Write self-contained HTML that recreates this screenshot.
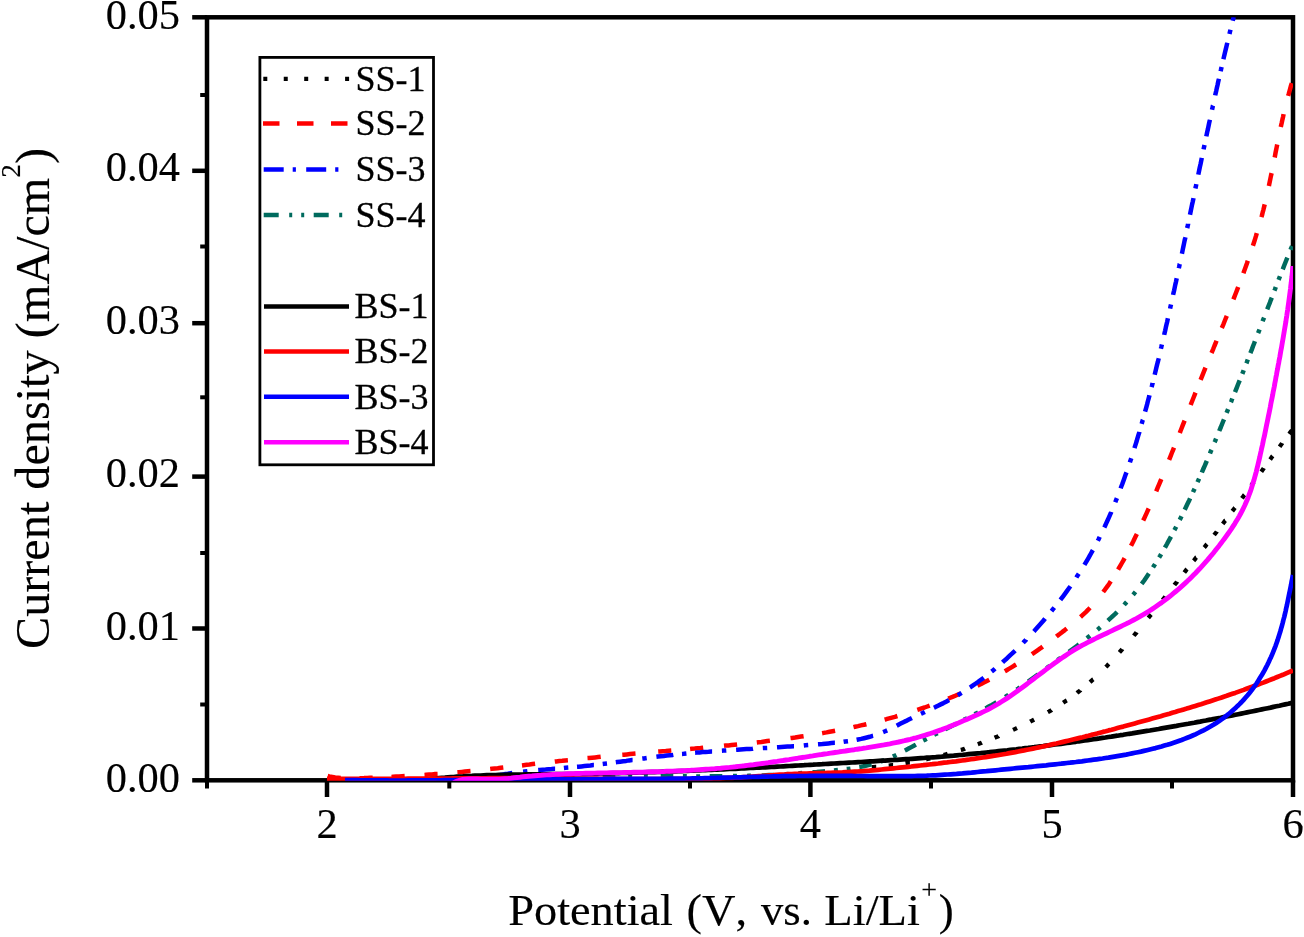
<!DOCTYPE html>
<html lang="en">
<head>
<meta charset="utf-8">
<title>Current density vs. Potential</title>
<style>
html,body{margin:0;padding:0;background:#ffffff;}
body{width:1304px;height:937px;overflow:hidden;}
svg{display:block;filter:blur(0.55px);}
text{font-family:"Liberation Serif","Times New Roman",serif;fill:#000;}
</style>
</head>
<body>
<svg width="1304" height="937" viewBox="0 0 1304 937">
<rect x="0" y="0" width="1304" height="937" fill="#ffffff"/>
<defs><clipPath id="plot"><rect x="207" y="17.3" width="1086" height="763.4"/></clipPath></defs>

<g stroke="#000" stroke-width="4.5" fill="none" stroke-linecap="butt">
<rect x="207.0" y="17.3" width="1086.0" height="763.0"/>
<line x1="192.2" y1="780.3" x2="207.0" y2="780.3"/>
<line x1="192.2" y1="628.5" x2="207.0" y2="628.5"/>
<line x1="192.2" y1="476.6" x2="207.0" y2="476.6"/>
<line x1="192.2" y1="323.2" x2="207.0" y2="323.2"/>
<line x1="192.2" y1="170.8" x2="207.0" y2="170.8"/>
<line x1="192.2" y1="17.3" x2="207.0" y2="17.3"/>
<line x1="200.2" y1="704.5" x2="207.0" y2="704.5" stroke-width="4"/>
<line x1="200.2" y1="553.0" x2="207.0" y2="553.0" stroke-width="4"/>
<line x1="200.2" y1="397.3" x2="207.0" y2="397.3" stroke-width="4"/>
<line x1="200.2" y1="246.5" x2="207.0" y2="246.5" stroke-width="4"/>
<line x1="200.2" y1="95.0" x2="207.0" y2="95.0" stroke-width="4"/>
<line x1="327.0" y1="780.3" x2="327.0" y2="797.0"/>
<line x1="570.0" y1="780.3" x2="570.0" y2="797.0"/>
<line x1="810.4" y1="780.3" x2="810.4" y2="797.0"/>
<line x1="1052.0" y1="780.3" x2="1052.0" y2="797.0"/>
<line x1="1293.0" y1="780.3" x2="1293.0" y2="797.0"/>
<line x1="207.0" y1="780.3" x2="207.0" y2="788.5" stroke-width="4"/>
<line x1="449.3" y1="780.3" x2="449.3" y2="788.5" stroke-width="4"/>
<line x1="690.0" y1="780.3" x2="690.0" y2="788.5" stroke-width="4"/>
<line x1="931.0" y1="780.3" x2="931.0" y2="788.5" stroke-width="4"/>
<line x1="1172.0" y1="780.3" x2="1172.0" y2="788.5" stroke-width="4"/>
</g>
<g clip-path="url(#plot)" fill="none" stroke-linejoin="round">
<path d="M871.8 767.2L873.0 767.2L876.0 766.9L876.2 766.9M888.7 765.6L889.9 765.5L892.9 765.1L893.1 765.1M905.5 763.2L906.7 763.0L909.7 762.5L909.9 762.5M926.1 759.3L927.3 759.0L930.2 758.3L930.4 758.3M943.6 755.0L944.8 754.7L947.6 753.9L947.8 753.8M960.8 749.9L962.0 749.6L964.8 748.7L965.0 748.6M977.8 744.2L978.9 743.8L981.7 742.8L981.9 742.7M994.6 737.8L995.7 737.3L998.5 736.2L998.6 736.1M1013.0 729.9L1014.1 729.4L1016.8 728.1L1017.0 728.0M1030.2 721.7L1031.2 721.1L1033.9 719.8L1034.1 719.7M1047.8 712.2L1048.9 711.6L1051.5 710.1L1051.6 710.0M1063.2 702.8L1064.2 702.1L1066.6 700.4L1066.8 700.3M1077.0 693.0L1077.9 692.2L1080.3 690.4L1080.4 690.2M1090.0 682.2L1090.9 681.4L1093.1 679.4L1093.3 679.3M1105.8 667.1L1106.7 666.2L1108.7 664.1L1108.9 663.9M1119.4 652.4L1120.2 651.5L1122.2 649.3L1122.3 649.1M1133.8 635.7L1134.5 634.8L1136.5 632.5L1136.6 632.3M1148.3 617.9L1149.1 617.0L1151.0 614.6L1151.1 614.5M1162.7 600.0L1163.4 599.0L1165.3 596.7L1165.4 596.5M1174.4 585.1L1175.1 584.1L1177.0 581.8L1177.1 581.6M1184.3 572.5L1185.0 571.6L1186.9 569.2L1187.0 569.1M1193.6 560.8L1194.4 559.9L1196.2 557.5L1196.4 557.4M1204.2 547.5L1205.0 546.6L1206.8 544.2L1206.9 544.1M1214.1 535.0L1214.9 534.0L1216.7 531.7L1216.8 531.5M1222.7 523.9L1223.4 523.0L1225.2 520.6L1225.4 520.5M1232.3 511.2L1233.1 510.2L1234.9 507.8L1235.0 507.7M1241.9 498.3L1242.6 497.4L1244.3 495.0L1244.5 494.8M1251.3 485.4L1252.0 484.4L1253.7 482.0L1253.9 481.9M1261.3 471.7L1262.0 470.7L1263.7 468.3L1263.8 468.1M1270.1 459.5L1270.8 458.6L1272.6 456.1L1272.7 456.0M1279.6 446.7L1280.3 445.7L1282.1 443.3L1282.2 443.1M1289.2 433.9L1289.9 432.9L1291.7 430.6L1291.9 430.4" stroke="#000000" stroke-width="4.3"/>
<path d="M327.7 776.0L329.3 776.4L332.3 776.9L335.2 777.4L338.2 777.7L340.7 777.9M359.5 778.2L361.1 778.2L364.1 778.1L367.1 777.9L370.1 777.8L372.7 777.7M391.5 776.9L393.1 776.8L396.1 776.6L399.1 776.5L402.1 776.3L404.7 776.1M424.5 774.9L426.1 774.8L429.1 774.6L432.1 774.4L435.1 774.1L437.6 774.0M457.4 772.3L459.0 772.2L461.9 771.9L464.9 771.6L467.9 771.3L470.5 771.1M490.2 769.0L491.8 768.8L494.8 768.5L497.7 768.2L500.7 767.8L503.3 767.5M522.0 765.4L523.6 765.2L526.6 764.8L529.5 764.5L532.5 764.1L535.1 763.8M554.8 761.6L556.3 761.4L559.3 761.1L562.3 760.8L565.3 760.4L567.9 760.2M587.5 758.1L589.1 758.0L592.1 757.7L595.1 757.4L598.1 757.1L600.7 756.8M622.3 754.8L623.9 754.7L626.9 754.4L629.9 754.1L632.9 753.8L635.5 753.6M658.2 751.6L659.8 751.5L662.8 751.2L665.8 751.0L668.7 750.7L671.3 750.5M690.1 748.9L691.7 748.7L694.7 748.5L697.7 748.2L700.6 748.0L703.2 747.7M724.0 745.8L725.6 745.6L728.5 745.4L731.5 745.1L734.5 744.8L737.1 744.5M756.8 742.4L758.4 742.2L761.4 741.9L764.4 741.5L767.3 741.1L769.9 740.8M790.5 738.1L792.1 737.9L795.1 737.5L798.1 737.0L801.0 736.6L803.6 736.2M822.1 733.2L823.7 732.9L826.6 732.4L829.6 731.8L832.5 731.3L835.1 730.8M853.5 727.1L855.1 726.7L858.0 726.1L860.9 725.4L863.9 724.8L866.4 724.2M884.6 719.6L886.2 719.2L889.1 718.4L892.0 717.6L894.9 716.8L897.4 716.0M917.3 709.9L918.8 709.4L921.6 708.4L924.5 707.5L927.3 706.5L929.7 705.6M948.2 698.6L949.7 698.0L952.5 696.9L955.3 695.7L958.0 694.5L960.4 693.5M977.5 685.7L978.9 685.0L981.6 683.7L984.3 682.3L986.9 681.0L989.3 679.8M1004.8 671.3L1006.2 670.5L1008.8 668.9L1011.4 667.4L1013.9 665.8L1016.1 664.5M1031.9 654.2L1033.2 653.3L1035.7 651.6L1038.2 649.9L1040.6 648.2L1042.7 646.6M1056.4 636.6L1057.6 635.6L1060.0 633.8L1062.4 631.9L1064.8 630.1L1066.8 628.5M1080.5 617.0L1081.7 615.9L1083.9 613.8L1086.1 611.8L1088.2 609.7L1090.0 607.8M1103.2 592.0L1104.2 590.7L1105.9 588.3L1107.7 585.9L1109.4 583.4L1110.8 581.2M1118.1 569.6L1118.9 568.2L1120.4 565.6L1121.9 563.0L1123.4 560.4L1124.6 558.1M1131.0 545.8L1131.7 544.4L1133.1 541.7L1134.4 539.0L1135.7 536.3L1136.9 534.0M1143.2 520.5L1143.9 519.1L1145.1 516.4L1146.4 513.6L1147.6 510.9L1148.7 508.5M1156.2 491.3L1156.8 489.8L1157.9 487.1L1159.1 484.3L1160.3 481.5L1161.3 479.1M1169.1 459.9L1169.7 458.4L1170.8 455.6L1171.9 452.8L1173.0 450.1L1174.0 447.6M1179.8 433.0L1180.3 431.5L1181.4 428.7L1182.5 425.9L1183.6 423.1L1184.6 420.7M1190.7 405.0L1191.2 403.5L1192.3 400.7L1193.4 398.0L1194.5 395.2L1195.5 392.7M1200.6 379.9L1201.2 378.4L1202.3 375.6L1203.4 372.9L1204.5 370.1L1205.5 367.7M1211.5 353.0L1212.1 351.6L1213.3 348.8L1214.4 346.0L1215.6 343.2L1216.5 340.8M1221.8 328.0L1222.4 326.6L1223.6 323.8L1224.7 321.0L1225.8 318.2L1226.8 315.8M1233.4 299.3L1234.0 297.8L1235.1 295.0L1236.2 292.2L1237.3 289.4L1238.2 287.0M1243.4 273.2L1243.9 271.7L1245.0 268.8L1246.0 266.0L1247.0 263.2L1247.8 260.7M1252.9 245.8L1253.4 244.3L1254.3 241.5L1255.2 238.6L1256.1 235.7L1256.8 233.2M1261.4 217.2L1261.9 215.6L1262.6 212.7L1263.4 209.8L1264.1 206.9L1264.7 204.4M1268.9 186.0L1269.2 184.4L1269.8 181.5L1270.4 178.6L1271.0 175.6L1271.6 173.1M1274.7 157.5L1275.0 155.9L1275.5 153.0L1276.1 150.0L1276.7 147.1L1277.2 144.5M1280.8 127.0L1281.1 125.5L1281.8 122.5L1282.4 119.6L1283.1 116.7L1283.6 114.1M1288.1 95.9L1288.6 94.4L1289.4 91.5L1290.2 88.6L1291.0 85.7L1291.8 83.2" stroke="#ff0000" stroke-width="4.5"/>
<path d="M500.0 775.0L502.0 774.6L504.9 774.1L507.9 773.7L510.9 773.2L512.3 773.0M523.1 771.7L524.8 771.5L527.4 771.2M538.2 770.1L539.7 770.0L542.7 769.7L545.6 769.5L548.6 769.2L551.6 769.0L554.6 768.7L555.1 768.7M563.9 768.0L565.6 767.8L568.3 767.6M577.0 766.8L578.5 766.7L581.5 766.4L584.5 766.1L587.5 765.8L590.4 765.5L593.4 765.1L593.9 765.1M602.7 764.0L604.3 763.8L607.0 763.5M615.8 762.3L617.2 762.1L620.2 761.7L623.2 761.3L626.2 760.9L629.1 760.4L632.1 760.0L632.6 760.0M642.3 758.6L644.0 758.4L646.7 758.0M656.4 756.8L657.9 756.6L660.9 756.2L663.9 755.9L666.8 755.5L669.8 755.2L672.8 754.9L673.3 754.8M682.0 753.9L683.7 753.8L686.4 753.5M695.1 752.7L696.7 752.6L699.6 752.4L702.6 752.1L705.6 751.9L708.6 751.7L711.6 751.4L712.1 751.4M721.9 750.7L723.5 750.6L726.3 750.4M736.1 749.8L737.5 749.7L740.5 749.5L743.5 749.3L746.5 749.1L749.5 748.9L752.5 748.8L753.0 748.7M762.8 748.1L764.4 748.0L767.2 747.9M777.0 747.3L778.4 747.2L781.4 747.0L784.4 746.8L787.4 746.6L790.4 746.4L793.4 746.2L794.0 746.2M803.8 745.5L805.4 745.3L808.2 745.1M818.0 744.3L819.4 744.2L822.4 744.0L825.4 743.7L828.4 743.4L831.4 743.1L834.4 742.8L834.9 742.8M843.6 741.8L845.4 741.5L848.0 741.2M856.6 739.8L858.2 739.5L861.1 738.9L864.0 738.2L866.9 737.5L869.7 736.8L872.6 735.9L873.1 735.8M883.1 732.1L884.6 731.5L887.2 730.4M896.7 725.7L898.0 725.0L900.7 723.6L903.4 722.2L906.1 720.9L908.8 719.5L911.5 718.2L911.9 718.0M920.9 713.8L922.5 713.1L924.9 711.9M933.9 707.7L935.3 707.1L938.0 705.7L940.7 704.4L943.4 703.1L946.1 701.7L948.7 700.3L949.1 700.1M957.8 695.2L959.2 694.4L961.6 692.9M969.9 687.5L970.9 686.9L973.4 685.2L975.8 683.5L978.2 681.8L980.6 680.0L983.0 678.3L983.8 677.7M991.6 671.5L992.4 670.9L994.7 669.0L995.0 668.7M1002.6 662.3L1003.7 661.2L1006.0 659.3L1008.2 657.2L1010.3 655.2L1012.5 653.2L1014.7 651.1L1015.1 650.7M1023.1 642.8L1023.9 641.9L1026.0 639.8L1026.1 639.6M1033.9 631.4L1034.9 630.3L1036.9 628.0L1038.9 625.8L1040.9 623.6L1042.9 621.3L1044.8 619.0L1045.1 618.6M1051.5 611.1L1052.6 609.7L1054.3 607.6M1060.4 599.9L1061.3 598.7L1063.1 596.3L1064.9 593.9L1066.7 591.4L1068.4 589.0L1070.2 586.5L1070.4 586.2M1076.4 577.5L1076.9 576.6L1078.6 574.1L1078.8 573.8M1084.4 564.9L1085.0 563.9L1086.5 561.3L1088.0 558.8L1089.5 556.2L1091.0 553.5L1092.4 550.9L1092.9 550.1M1097.8 540.8L1098.5 539.5L1099.7 536.9M1104.3 527.4L1105.0 526.0L1106.2 523.3L1107.5 520.5L1108.7 517.8L1109.9 515.1L1111.1 512.3L1111.2 511.9M1115.3 502.2L1116.0 500.3L1116.9 498.1M1120.7 488.3L1121.0 487.3L1122.1 484.5L1123.1 481.7L1124.1 478.9L1125.1 476.1L1126.1 473.3L1126.5 472.3M1129.9 462.3L1130.3 461.0L1131.3 458.2M1134.5 448.1L1134.9 446.7L1135.8 443.8L1136.7 441.0L1137.5 438.1L1138.4 435.2L1139.3 432.4L1139.4 431.9M1141.7 423.9L1142.0 422.7L1142.8 419.9L1142.9 419.7M1145.1 411.6L1145.5 410.2L1146.3 407.3L1147.1 404.4L1147.8 401.5L1148.6 398.6L1149.4 395.7L1149.5 395.2M1151.6 387.1L1151.9 386.0L1152.6 383.1L1152.6 382.9M1154.7 374.8L1155.0 373.4L1155.7 370.4L1156.4 367.5L1157.1 364.6L1157.9 361.7L1158.6 358.8L1158.7 358.3M1160.9 348.7L1161.3 347.1L1161.9 344.4M1164.2 334.9L1164.5 333.4L1165.2 330.5L1165.8 327.6L1166.5 324.6L1167.2 321.7L1167.8 318.8L1167.9 318.3M1170.1 308.7L1170.4 307.1L1171.0 304.5M1173.1 294.9L1173.4 293.4L1174.1 290.5L1174.7 287.6L1175.3 284.6L1176.0 281.7L1176.6 278.8L1176.7 278.3M1178.8 268.2L1179.1 267.0L1179.7 264.1L1179.8 263.9M1181.9 253.8L1182.2 252.4L1182.8 249.4L1183.4 246.5L1184.0 243.6L1184.6 240.6L1185.3 237.7L1185.4 237.2M1187.2 228.1L1187.5 226.9L1188.1 224.0L1188.1 223.8M1190.0 214.7L1190.3 213.2L1190.9 210.3L1191.5 207.4L1192.1 204.4L1192.8 201.5L1193.4 198.6L1193.5 198.1M1195.4 188.5L1195.8 186.8L1196.3 184.2M1198.3 174.6L1198.6 173.1L1199.2 170.2L1199.8 167.2L1200.5 164.3L1201.1 161.4L1201.7 158.4L1201.8 157.9M1203.6 149.3L1203.9 147.7L1204.5 145.0M1206.3 136.4L1206.6 135.0L1207.2 132.0L1207.9 129.1L1208.5 126.2L1209.1 123.2L1209.8 120.3L1209.9 119.8M1212.0 109.8L1212.3 108.6L1212.9 105.7L1213.0 105.5M1215.2 95.4L1215.5 93.9L1216.2 91.0L1216.8 88.1L1217.5 85.2L1218.1 82.2L1218.8 79.3L1218.9 78.8M1220.6 71.2L1221.0 69.6L1221.6 66.9M1223.4 59.3L1223.7 57.9L1224.4 54.9L1225.1 52.0L1225.8 49.1L1226.5 46.2L1227.2 43.3L1227.3 42.8M1229.5 33.9L1229.8 32.6L1230.5 29.7M1232.7 20.8L1233.2 18.9L1233.7 17.0" stroke="#0000ff" stroke-width="4.5"/>
<path d="M602.7 776.4L604.0 776.4L607.0 776.4L610.0 776.3L613.0 776.3L615.3 776.3M628.2 776.2L630.0 776.2L632.1 776.2M643.9 776.2L645.0 776.2L647.8 776.2M660.7 776.2L662.0 776.2L665.0 776.2L668.0 776.2L671.0 776.3L673.3 776.3M682.9 776.3L684.0 776.3L686.8 776.3M696.2 776.4L698.0 776.4L700.1 776.4M709.7 776.3L711.0 776.3L714.0 776.3L717.0 776.3L720.0 776.3L722.3 776.3M733.0 776.1L735.0 776.1L736.9 776.1M747.0 775.9L748.9 775.8L750.9 775.8M761.6 775.4L762.9 775.4L765.9 775.2L768.9 775.1L771.9 775.0L774.2 774.9M784.6 774.3L785.9 774.2L788.5 774.0M798.3 773.4L799.8 773.3L802.2 773.1M812.6 772.3L813.8 772.2L816.8 772.0L819.8 771.7L822.8 771.5L825.1 771.3M834.0 770.5L835.9 770.3L837.9 770.1M846.7 769.1L847.9 769.0L850.5 768.6M859.3 767.1L860.7 766.9L863.6 766.3L866.5 765.6L869.4 764.9L871.6 764.4M880.7 761.6L881.7 761.2L884.4 760.2M892.9 756.6L894.4 755.9L896.4 754.9M904.8 750.6L906.0 750.0L908.6 748.6L911.3 747.1L913.9 745.7L915.9 744.6M923.2 740.5L924.5 739.9L926.7 738.7M934.1 734.8L935.1 734.3L937.6 733.1M945.1 729.3L946.8 728.5L949.4 727.1L952.1 725.8L954.8 724.5L956.3 723.7M963.8 719.9L965.5 719.1L967.3 718.2M974.7 714.3L976.1 713.5L978.2 712.4M985.5 708.4L986.7 707.8L989.3 706.3L991.9 704.9L994.5 703.4L996.5 702.2M1005.2 697.0L1006.4 696.2L1008.5 694.9M1016.6 689.6L1018.2 688.6L1019.9 687.4M1028.2 681.6L1029.6 680.6L1032.0 678.9L1034.5 677.1L1036.9 675.3L1038.4 674.2M1046.6 668.2L1048.1 667.0L1049.7 665.9M1057.6 660.1L1058.6 659.3L1060.7 657.8M1068.9 651.8L1069.9 651.1L1072.4 649.3L1074.8 647.5L1077.2 645.7L1079.0 644.3M1086.9 638.2L1088.3 637.1L1090.0 635.8M1097.4 629.7L1098.4 628.9L1100.4 627.2M1107.9 620.6L1108.9 619.7L1111.1 617.7L1113.3 615.6L1115.5 613.6L1117.1 612.0M1124.1 604.9L1125.2 603.6L1126.7 602.0M1133.0 594.8L1133.8 593.9L1135.5 591.8M1141.6 583.9L1142.4 582.9L1144.2 580.5L1145.9 578.0L1147.6 575.5L1148.9 573.6M1153.0 567.4L1153.7 566.3L1155.1 564.1M1159.1 557.5L1160.0 556.1L1161.1 554.2M1164.9 547.7L1165.5 546.6L1167.0 544.0L1168.4 541.3L1169.9 538.7L1171.0 536.7M1174.4 530.1L1175.0 529.0L1176.2 526.7M1179.7 519.8L1180.5 518.4L1181.5 516.3M1184.7 509.7L1185.3 508.5L1186.6 505.8L1187.9 503.1L1189.2 500.4L1190.1 498.3M1193.0 492.2L1193.8 490.4L1194.6 488.7M1197.5 482.2L1198.3 480.4L1199.1 478.6M1201.8 472.5L1202.3 471.3L1203.5 468.5L1204.7 465.8L1205.9 463.0L1206.8 460.9M1210.0 453.4L1210.5 452.0L1211.5 449.8M1214.6 442.2L1215.2 440.9L1216.1 438.6M1219.2 431.0L1219.7 429.8L1220.9 427.0L1222.0 424.2L1223.1 421.5L1224.0 419.3M1226.6 412.8L1227.2 411.3L1228.1 409.1M1230.9 402.2L1231.4 401.1L1232.3 398.6M1235.0 392.1L1235.5 390.9L1236.6 388.1L1237.7 385.3L1238.8 382.5L1239.7 380.4M1242.3 373.8L1242.9 372.3L1243.7 370.2M1246.4 363.3L1246.9 362.1L1247.8 359.6M1250.4 353.1L1250.9 351.8L1252.0 349.1L1253.0 346.3L1254.1 343.5L1254.9 341.3M1258.1 333.1L1258.8 331.4L1259.5 329.4M1262.6 321.3L1263.0 320.2L1264.1 317.6M1267.2 309.4L1267.7 308.1L1268.8 305.3L1269.9 302.6L1270.9 299.8L1271.8 297.6M1274.4 290.7L1274.9 289.5L1275.8 287.0M1278.6 279.9L1279.2 278.3L1280.0 276.2M1282.7 269.3L1283.2 268.1L1284.3 265.3L1285.4 262.5L1286.5 259.7L1287.4 257.6M1290.6 249.7L1291.0 248.6L1292.1 246.1" stroke="#006b5e" stroke-width="4.5"/>
<path d="M430.0 779.2L433.0 778.8L435.9 778.5L438.9 778.2L441.9 777.9L444.9 777.7L447.9 777.4L450.9 777.2L453.8 777.0L456.8 776.7L459.8 776.5L462.8 776.4L465.8 776.2L468.8 776.0L471.8 775.9L474.8 775.7L477.7 775.6L480.7 775.5L483.7 775.3L486.7 775.2L489.7 775.1L492.7 775.0L495.7 775.0L498.7 774.9L501.7 774.8L504.7 774.8L507.7 774.7L510.7 774.6L513.7 774.6L516.7 774.6L519.7 774.5L522.7 774.5L525.7 774.4L528.7 774.4L531.7 774.4L534.7 774.4L537.6 774.3L540.6 774.3L543.6 774.3L546.6 774.3L549.6 774.2L552.6 774.2L555.6 774.2L558.6 774.2L561.6 774.1L564.6 774.1L567.6 774.1L570.6 774.0L573.6 774.0L576.6 773.9L579.6 773.9L582.6 773.8L585.6 773.8L588.6 773.7L591.6 773.7L594.6 773.6L597.6 773.6L600.6 773.5L603.6 773.4L606.6 773.4L609.6 773.3L612.6 773.2L615.6 773.2L618.6 773.1L621.6 773.0L624.6 772.9L627.6 772.9L630.6 772.8L633.5 772.7L636.5 772.6L639.5 772.5L642.5 772.4L645.5 772.3L648.5 772.2L651.5 772.1L654.5 772.1L657.5 772.0L660.5 771.8L663.5 771.7L666.5 771.6L669.5 771.5L672.5 771.4L675.5 771.3L678.5 771.2L681.5 771.1L684.5 771.0L687.5 770.9L690.5 770.7L693.4 770.6L696.4 770.5L699.4 770.4L702.4 770.2L705.4 770.1L708.4 770.0L711.4 769.9L714.4 769.7L717.4 769.6L720.4 769.5L723.4 769.3L726.4 769.2L729.4 769.0L732.4 768.9L735.4 768.8L738.4 768.6L741.3 768.5L744.3 768.3L747.3 768.2L750.3 768.0L753.3 767.9L756.3 767.7L759.3 767.6L762.3 767.4L765.3 767.3L768.3 767.1L771.3 766.9L774.3 766.8L777.3 766.6L780.3 766.5L783.3 766.3L786.2 766.1L789.2 766.0L792.2 765.8L795.2 765.6L798.2 765.5L801.2 765.3L804.2 765.2L807.2 765.0L810.2 764.8L813.2 764.7L816.2 764.5L819.2 764.3L822.2 764.2L825.1 764.0L828.1 763.8L831.1 763.6L834.1 763.5L837.1 763.3L840.1 763.1L843.1 763.0L846.1 762.8L849.1 762.6L852.1 762.5L855.1 762.3L858.1 762.1L861.1 762.0L864.0 761.8L867.0 761.6L870.0 761.4L873.0 761.3L876.0 761.1L879.0 760.9L882.0 760.7L885.0 760.6L888.0 760.4L891.0 760.2L894.0 760.0L897.0 759.8L899.9 759.6L902.9 759.4L905.9 759.2L908.9 759.0L911.9 758.8L914.9 758.6L917.9 758.4L920.9 758.2L923.9 758.0L926.8 757.7L929.8 757.5L932.8 757.3L935.8 757.1L938.8 756.8L941.8 756.6L944.8 756.3L947.8 756.1L950.7 755.8L953.7 755.6L956.7 755.3L959.7 755.0L962.7 754.8L965.7 754.5L968.6 754.2L971.6 753.9L974.6 753.6L977.6 753.3L980.6 753.1L983.6 752.8L986.5 752.5L989.5 752.2L992.5 751.8L995.5 751.5L998.5 751.2L1001.4 750.9L1004.4 750.6L1007.4 750.3L1010.4 749.9L1013.4 749.6L1016.3 749.3L1019.3 748.9L1022.3 748.6L1025.3 748.2L1028.2 747.9L1031.2 747.5L1034.2 747.2L1037.2 746.8L1040.1 746.4L1043.1 746.1L1046.1 745.7L1049.1 745.3L1052.0 744.9L1055.0 744.5L1058.0 744.2L1061.0 743.8L1063.9 743.4L1066.9 743.0L1069.9 742.6L1072.8 742.2L1075.8 741.8L1078.8 741.3L1081.7 740.9L1084.7 740.5L1087.7 740.1L1090.6 739.7L1093.6 739.2L1096.6 738.8L1099.5 738.4L1102.5 737.9L1105.5 737.5L1108.4 737.0L1111.4 736.6L1114.4 736.1L1117.3 735.7L1120.3 735.2L1123.2 734.8L1126.2 734.3L1129.2 733.8L1132.1 733.4L1135.1 732.9L1138.0 732.4L1141.0 731.9L1144.0 731.4L1146.9 730.9L1149.9 730.5L1152.8 730.0L1155.8 729.5L1158.7 729.0L1161.7 728.4L1164.7 727.9L1167.6 727.4L1170.6 726.9L1173.5 726.4L1176.5 725.9L1179.4 725.3L1182.4 724.8L1185.3 724.3L1188.3 723.8L1191.2 723.2L1194.2 722.7L1197.1 722.1L1200.1 721.6L1203.0 721.0L1205.9 720.5L1208.9 719.9L1211.8 719.4L1214.8 718.8L1217.7 718.2L1220.7 717.7L1223.6 717.1L1226.5 716.5L1229.5 716.0L1232.4 715.4L1235.4 714.8L1238.3 714.2L1241.2 713.6L1244.2 713.0L1247.1 712.4L1250.1 711.8L1253.0 711.2L1255.9 710.6L1258.9 710.0L1261.8 709.4L1264.7 708.8L1267.7 708.2L1270.6 707.6L1273.5 706.9L1276.4 706.3L1279.4 705.7L1282.3 705.0L1285.2 704.4L1288.2 703.8L1291.1 703.1L1293.0 702.7" stroke="#000000" stroke-width="4.7"/>
<path d="M327.0 778.8L330.0 778.9L333.0 778.9L336.0 778.9L339.0 778.9L342.0 778.9L345.0 778.9L348.0 778.9L351.0 778.9L354.0 778.9L357.0 778.9L360.0 778.9L363.0 778.9L366.0 778.9L369.0 778.9L372.0 778.9L375.0 778.9L378.0 778.9L381.0 778.9L384.0 778.9L387.0 778.9L390.0 778.8L393.0 778.8L396.0 778.8L399.0 778.8L402.0 778.8L405.0 778.8L408.0 778.7L411.0 778.7L414.0 778.7L417.0 778.7L420.0 778.7L423.0 778.6L426.0 778.6L429.0 778.6L432.0 778.6L435.0 778.6L438.0 778.5L441.0 778.5L444.0 778.5L447.0 778.5L450.0 778.5L453.0 778.4L456.0 778.4L459.0 778.4L462.0 778.4L465.0 778.4L467.9 778.3L470.9 778.3L473.9 778.3L476.9 778.3L479.9 778.3L482.9 778.3L485.9 778.3L488.9 778.2L491.9 778.2L494.9 778.2L497.9 778.2L500.9 778.2L503.9 778.2L506.9 778.2L509.9 778.2L512.9 778.2L515.9 778.2L518.9 778.2L521.9 778.2L524.9 778.2L527.9 778.2L530.9 778.2L533.9 778.2L536.9 778.2L539.9 778.2L542.9 778.2L545.9 778.2L548.9 778.2L551.9 778.3L554.9 778.3L557.9 778.3L560.9 778.3L563.9 778.3L566.9 778.4L569.9 778.4L572.9 778.4L575.9 778.5L578.9 778.5L581.9 778.5L584.9 778.6L587.9 778.6L590.9 778.6L593.9 778.7L596.9 778.7L599.9 778.8L602.9 778.8L605.9 778.8L608.9 778.9L611.9 778.9L614.9 778.9L617.9 779.0L620.9 779.0L623.9 779.0L626.9 779.1L629.9 779.1L632.9 779.1L635.9 779.1L638.9 779.2L641.9 779.2L644.9 779.2L647.9 779.2L650.9 779.2L653.9 779.2L656.9 779.2L659.9 779.2L662.9 779.2L665.9 779.2L668.9 779.2L671.9 779.2L674.9 779.2L677.9 779.2L680.9 779.1L683.9 779.1L686.9 779.1L689.9 779.0L692.9 779.0L695.9 778.9L698.9 778.9L701.9 778.8L704.9 778.7L707.9 778.6L710.9 778.6L713.9 778.5L716.9 778.4L719.9 778.3L722.9 778.2L725.9 778.0L728.9 777.9L731.8 777.8L734.8 777.6L737.8 777.5L740.8 777.3L743.8 777.1L746.8 777.0L749.8 776.8L752.8 776.6L755.8 776.4L758.8 776.2L761.8 776.0L764.8 775.8L767.7 775.6L770.7 775.4L773.7 775.2L776.7 774.9L779.7 774.7L782.7 774.5L785.7 774.4L788.7 774.2L791.7 774.0L794.7 773.9L797.7 773.8L800.7 773.7L803.7 773.6L806.7 773.5L809.7 773.4L812.7 773.3L815.7 773.2L818.7 773.1L821.7 773.1L824.7 773.0L827.7 772.9L830.7 772.8L833.7 772.7L836.7 772.6L839.7 772.5L842.6 772.4L845.6 772.2L848.6 772.1L851.6 771.9L854.6 771.7L857.6 771.5L860.6 771.3L863.6 771.1L866.6 770.8L869.5 770.6L872.5 770.3L875.5 770.1L878.5 769.8L881.5 769.5L884.5 769.2L887.4 768.9L890.4 768.6L893.4 768.3L896.4 768.0L899.4 767.7L902.4 767.4L905.3 767.1L908.3 766.8L911.3 766.5L914.3 766.1L917.3 765.8L920.3 765.5L923.2 765.2L926.2 764.8L929.2 764.5L932.2 764.2L935.2 763.8L938.1 763.5L941.1 763.1L944.1 762.7L947.1 762.4L950.1 762.0L953.0 761.6L956.0 761.3L959.0 760.9L962.0 760.5L965.0 760.1L967.9 759.7L970.9 759.2L973.9 758.8L976.8 758.4L979.8 758.0L982.8 757.5L985.7 757.1L988.7 756.6L991.7 756.1L994.6 755.7L997.6 755.2L1000.5 754.7L1003.5 754.2L1006.5 753.7L1009.4 753.1L1012.4 752.6L1015.3 752.1L1018.3 751.5L1021.2 750.9L1024.1 750.4L1027.1 749.8L1030.0 749.2L1033.0 748.6L1035.9 748.0L1038.8 747.4L1041.7 746.7L1044.7 746.1L1047.6 745.5L1050.5 744.8L1053.4 744.1L1056.4 743.5L1059.3 742.8L1062.2 742.1L1065.1 741.4L1068.0 740.7L1071.0 740.0L1073.9 739.3L1076.8 738.6L1079.7 737.9L1082.6 737.2L1085.5 736.4L1088.4 735.7L1091.3 734.9L1094.2 734.2L1097.1 733.5L1100.0 732.7L1102.9 731.9L1105.8 731.2L1108.7 730.4L1111.6 729.7L1114.5 728.9L1117.4 728.1L1120.3 727.3L1123.2 726.6L1126.1 725.8L1129.0 725.0L1131.9 724.2L1134.8 723.4L1137.7 722.6L1140.6 721.8L1143.5 721.0L1146.4 720.2L1149.3 719.4L1152.2 718.6L1155.0 717.8L1157.9 717.0L1160.8 716.2L1163.7 715.3L1166.6 714.5L1169.5 713.7L1172.3 712.8L1175.2 712.0L1178.1 711.1L1181.0 710.3L1183.8 709.4L1186.7 708.6L1189.6 707.7L1192.5 706.8L1195.3 705.9L1198.2 705.0L1201.0 704.2L1203.9 703.3L1206.8 702.3L1209.6 701.4L1212.5 700.5L1215.3 699.6L1218.2 698.6L1221.0 697.7L1223.8 696.7L1226.7 695.8L1229.5 694.8L1232.4 693.8L1235.2 692.9L1238.0 691.9L1240.8 690.9L1243.7 689.9L1246.5 688.8L1249.3 687.8L1252.1 686.8L1254.9 685.7L1257.7 684.7L1260.5 683.6L1263.3 682.6L1266.1 681.5L1268.9 680.4L1271.7 679.3L1274.5 678.2L1277.3 677.0L1280.1 675.9L1282.9 674.8L1285.6 673.6L1288.4 672.4L1291.2 671.3L1293.0 670.5" stroke="#ff0000" stroke-width="4.7"/>
<path d="M345.0 780.0L348.0 780.1L351.0 780.1L354.0 780.2L357.0 780.2L360.0 780.3L363.0 780.3L366.0 780.3L369.0 780.3L372.0 780.4L375.0 780.4L378.0 780.4L381.0 780.4L384.0 780.4L387.0 780.4L390.0 780.5L393.0 780.5L396.0 780.5L399.0 780.5L402.0 780.5L405.0 780.5L408.0 780.4L411.0 780.4L414.0 780.4L417.0 780.4L420.0 780.4L423.0 780.4L426.0 780.4L429.0 780.3L432.0 780.3L435.0 780.3L438.0 780.3L441.0 780.3L444.0 780.2L447.0 780.2L449.9 780.2L452.9 780.1L455.9 780.1L458.9 780.1L461.9 780.0L464.9 780.0L467.9 780.0L470.9 779.9L473.9 779.9L476.9 779.9L479.9 779.8L482.9 779.8L485.9 779.8L488.9 779.7L491.9 779.7L494.9 779.7L497.9 779.6L500.9 779.6L503.9 779.6L506.9 779.5L509.9 779.5L512.9 779.5L515.9 779.4L518.9 779.4L521.9 779.4L524.9 779.3L527.9 779.3L530.9 779.3L533.9 779.2L536.9 779.2L539.9 779.2L542.9 779.2L545.9 779.1L548.9 779.1L551.9 779.1L554.9 779.1L557.9 779.1L560.9 779.0L563.9 779.0L566.9 779.0L569.9 779.0L572.9 779.0L575.9 779.0L578.9 779.0L581.9 779.0L584.9 779.0L587.9 779.0L590.9 779.0L593.9 779.0L596.9 779.0L599.9 779.0L602.9 779.0L605.9 778.9L608.9 778.9L611.9 778.9L614.9 778.9L617.9 778.9L620.9 778.9L623.9 778.9L626.9 778.9L629.9 778.9L632.9 778.9L635.9 778.9L638.9 778.9L641.9 778.9L644.8 778.9L647.8 778.9L650.8 778.9L653.8 778.8L656.8 778.8L659.8 778.8L662.8 778.8L665.8 778.8L668.8 778.7L671.8 778.7L674.8 778.7L677.8 778.6L680.8 778.6L683.8 778.6L686.8 778.5L689.8 778.5L692.8 778.4L695.8 778.4L698.8 778.3L701.8 778.3L704.8 778.2L707.8 778.1L710.8 778.1L713.8 778.0L716.8 777.9L719.8 777.8L722.8 777.7L725.8 777.7L728.8 777.6L731.8 777.5L734.8 777.4L737.8 777.3L740.8 777.3L743.8 777.2L746.8 777.1L749.8 777.0L752.8 776.9L755.8 776.8L758.8 776.8L761.8 776.7L764.8 776.6L767.8 776.6L770.8 776.5L773.8 776.4L776.8 776.4L779.8 776.3L782.7 776.2L785.7 776.2L788.7 776.2L791.7 776.1L794.7 776.1L797.7 776.0L800.7 776.0L803.7 776.0L806.7 776.0L809.7 775.9L812.7 775.9L815.7 775.9L818.7 775.9L821.7 775.9L824.7 775.9L827.7 775.9L830.7 775.9L833.7 775.9L836.7 775.9L839.7 775.9L842.7 775.9L845.7 775.9L848.7 775.9L851.7 775.9L854.7 776.0L857.7 776.0L860.7 776.0L863.7 776.0L866.7 776.1L869.7 776.1L872.7 776.1L875.7 776.1L878.7 776.2L881.7 776.2L884.7 776.2L887.7 776.2L890.7 776.2L893.7 776.2L896.7 776.2L899.7 776.2L902.7 776.2L905.7 776.1L908.7 776.1L911.7 776.1L914.7 776.0L917.7 775.9L920.7 775.9L923.7 775.8L926.7 775.7L929.7 775.5L932.7 775.4L935.6 775.3L938.6 775.1L941.6 774.9L944.6 774.7L947.6 774.5L950.6 774.3L953.6 774.1L956.6 773.9L959.5 773.6L962.5 773.4L965.5 773.1L968.5 772.8L971.5 772.6L974.5 772.3L977.5 772.0L980.4 771.7L983.4 771.4L986.4 771.2L989.4 770.9L992.4 770.6L995.4 770.3L998.4 770.0L1001.3 769.7L1004.3 769.4L1007.3 769.1L1010.3 768.8L1013.3 768.5L1016.3 768.2L1019.3 767.9L1022.3 767.6L1025.3 767.3L1028.3 767.1L1031.2 766.8L1034.2 766.5L1037.2 766.2L1040.2 765.9L1043.2 765.6L1046.2 765.3L1049.2 764.9L1052.1 764.6L1055.1 764.3L1058.1 764.0L1061.1 763.7L1064.1 763.3L1067.0 763.0L1070.0 762.7L1073.0 762.3L1075.9 762.0L1078.9 761.6L1081.9 761.3L1084.8 760.9L1087.8 760.5L1090.8 760.1L1093.7 759.7L1096.7 759.3L1099.6 758.9L1102.6 758.5L1105.5 758.0L1108.5 757.6L1111.4 757.1L1114.4 756.6L1117.3 756.1L1120.3 755.6L1123.2 755.1L1126.2 754.6L1129.1 754.0L1132.1 753.4L1135.0 752.8L1138.0 752.2L1140.9 751.6L1143.9 750.9L1146.8 750.2L1149.8 749.5L1152.7 748.8L1155.6 748.1L1158.6 747.3L1161.5 746.5L1164.4 745.6L1167.3 744.8L1170.2 743.9L1173.0 743.0L1175.9 742.0L1178.7 741.0L1181.6 740.0L1184.4 738.9L1187.2 737.8L1189.9 736.7L1192.7 735.5L1195.4 734.3L1198.1 733.0L1200.8 731.7L1203.5 730.4L1206.1 729.0L1208.7 727.5L1211.3 726.0L1213.8 724.5L1216.3 722.9L1218.8 721.3L1221.2 719.6L1223.7 717.8L1226.0 716.0L1228.4 714.2L1230.7 712.3L1232.9 710.3L1235.2 708.3L1237.3 706.2L1239.5 704.1L1241.6 702.0L1243.6 699.8L1245.6 697.5L1247.6 695.2L1249.5 692.9L1251.4 690.5L1253.2 688.1L1255.0 685.7L1256.7 683.2L1258.3 680.7L1259.9 678.1L1261.5 675.6L1263.0 673.0L1264.5 670.4L1265.9 667.7L1267.3 665.0L1268.6 662.3L1269.8 659.6L1271.1 656.9L1272.3 654.1L1273.4 651.4L1274.5 648.6L1275.6 645.8L1276.6 642.9L1277.6 640.1L1278.5 637.3L1279.4 634.4L1280.3 631.5L1281.1 628.7L1281.9 625.8L1282.7 622.9L1283.4 620.0L1284.2 617.1L1284.9 614.1L1285.6 611.2L1286.2 608.3L1286.9 605.4L1287.5 602.4L1288.1 599.5L1288.7 596.5L1289.3 593.6L1289.9 590.7L1290.5 587.7L1291.1 584.8L1291.6 581.8L1292.2 578.9L1292.8 576.0L1293.0 575.0" stroke="#0000ff" stroke-width="4.7"/>
<path d="M452.0 783.9L454.6 782.3L457.3 781.1L460.2 780.2L463.0 779.5L466.0 779.2L468.9 779.0L471.9 778.9L474.9 778.9L478.0 779.0L481.0 779.1L484.0 779.2L487.1 779.2L490.1 779.2L493.1 779.2L496.1 779.2L499.1 779.1L502.1 778.9L505.0 778.7L508.0 778.5L511.0 778.2L514.0 777.8L517.0 777.5L520.0 777.2L522.9 776.8L525.9 776.5L528.9 776.2L531.9 776.0L534.9 775.7L537.9 775.5L540.9 775.3L543.8 775.0L546.8 774.9L549.8 774.7L552.8 774.5L555.8 774.3L558.8 774.2L561.8 774.1L564.8 773.9L567.8 773.8L570.8 773.7L573.7 773.6L576.7 773.5L579.7 773.5L582.7 773.4L585.7 773.3L588.7 773.2L591.7 773.2L594.7 773.1L597.7 773.0L600.7 773.0L603.7 772.9L606.7 772.9L609.7 772.8L612.7 772.8L615.7 772.7L618.7 772.6L621.7 772.6L624.7 772.5L627.7 772.4L630.7 772.4L633.7 772.3L636.7 772.2L639.7 772.2L642.7 772.1L645.7 772.0L648.7 771.9L651.7 771.8L654.7 771.8L657.7 771.7L660.7 771.6L663.7 771.5L666.7 771.3L669.7 771.2L672.7 771.1L675.7 771.0L678.7 770.9L681.7 770.7L684.7 770.6L687.7 770.4L690.7 770.3L693.7 770.1L696.7 769.9L699.7 769.7L702.7 769.5L705.7 769.3L708.7 769.1L711.7 768.9L714.7 768.7L717.6 768.4L720.6 768.2L723.6 767.9L726.6 767.6L729.6 767.4L732.6 767.1L735.5 766.8L738.5 766.4L741.5 766.1L744.5 765.8L747.4 765.4L750.4 765.0L753.4 764.7L756.4 764.3L759.3 763.9L762.3 763.5L765.3 763.1L768.2 762.7L771.2 762.2L774.1 761.8L777.1 761.4L780.1 760.9L783.0 760.5L786.0 760.0L789.0 759.6L791.9 759.1L794.9 758.6L797.8 758.2L800.8 757.7L803.8 757.3L806.7 756.8L809.7 756.3L812.7 755.9L815.6 755.4L818.6 754.9L821.6 754.5L824.5 754.0L827.5 753.6L830.5 753.1L833.5 752.7L836.4 752.3L839.4 751.8L842.4 751.4L845.4 751.0L848.3 750.5L851.3 750.1L854.3 749.7L857.3 749.2L860.2 748.8L863.2 748.3L866.2 747.9L869.1 747.4L872.1 746.9L875.1 746.4L878.0 745.9L881.0 745.4L883.9 744.9L886.9 744.3L889.8 743.8L892.8 743.2L895.7 742.6L898.6 742.0L901.5 741.3L904.5 740.7L907.4 740.0L910.3 739.3L913.2 738.5L916.0 737.8L918.9 737.0L921.8 736.2L924.7 735.3L927.5 734.4L930.4 733.5L933.2 732.6L936.0 731.6L938.8 730.6L941.7 729.6L944.5 728.5L947.3 727.5L950.1 726.4L952.8 725.3L955.6 724.1L958.4 723.0L961.2 721.8L963.9 720.6L966.7 719.4L969.4 718.2L972.2 717.0L974.9 715.8L977.7 714.5L980.4 713.2L983.1 711.9L985.8 710.6L988.5 709.2L991.1 707.8L993.7 706.4L996.3 704.9L998.9 703.4L1001.4 701.8L1004.0 700.2L1006.5 698.6L1009.0 696.9L1011.5 695.2L1013.9 693.5L1016.4 691.8L1018.8 690.0L1021.2 688.3L1023.6 686.5L1026.0 684.7L1028.4 682.9L1030.8 681.1L1033.2 679.3L1035.6 677.4L1038.0 675.6L1040.4 673.8L1042.8 672.0L1045.2 670.1L1047.6 668.3L1050.0 666.5L1052.4 664.8L1054.8 663.0L1057.3 661.2L1059.7 659.5L1062.2 657.8L1064.7 656.1L1067.1 654.5L1069.7 652.8L1072.2 651.2L1074.7 649.7L1077.3 648.2L1079.9 646.7L1082.5 645.2L1085.1 643.8L1087.8 642.4L1090.5 641.0L1093.1 639.7L1095.8 638.4L1098.5 637.0L1101.2 635.7L1103.9 634.5L1106.7 633.2L1109.4 631.9L1112.1 630.6L1114.8 629.3L1117.5 628.0L1120.2 626.7L1122.9 625.4L1125.6 624.1L1128.3 622.8L1131.0 621.4L1133.6 620.0L1136.3 618.6L1138.9 617.1L1141.5 615.6L1144.1 614.1L1146.6 612.6L1149.2 611.0L1151.7 609.4L1154.2 607.7L1156.7 606.0L1159.1 604.3L1161.6 602.6L1164.0 600.8L1166.4 599.0L1168.7 597.2L1171.1 595.3L1173.4 593.4L1175.7 591.5L1178.0 589.6L1180.3 587.6L1182.5 585.6L1184.7 583.6L1186.9 581.6L1189.1 579.5L1191.2 577.4L1193.3 575.3L1195.4 573.2L1197.5 571.0L1199.6 568.8L1201.6 566.6L1203.6 564.4L1205.6 562.1L1207.6 559.9L1209.5 557.6L1211.4 555.3L1213.4 553.0L1215.2 550.6L1217.1 548.3L1219.0 545.9L1220.8 543.5L1222.6 541.1L1224.4 538.7L1226.2 536.3L1228.0 533.8L1229.7 531.4L1231.4 528.9L1233.0 526.4L1234.7 523.8L1236.2 521.3L1237.8 518.7L1239.3 516.1L1240.7 513.5L1242.1 510.9L1243.4 508.2L1244.7 505.5L1245.9 502.8L1247.1 500.1L1248.2 497.3L1249.2 494.5L1250.3 491.7L1251.2 488.9L1252.1 486.0L1253.0 483.1L1253.9 480.3L1254.7 477.4L1255.5 474.5L1256.3 471.6L1257.0 468.6L1257.7 465.7L1258.4 462.8L1259.1 459.9L1259.8 456.9L1260.4 454.0L1261.1 451.0L1261.7 448.1L1262.4 445.2L1263.0 442.2L1263.6 439.3L1264.3 436.4L1264.9 433.4L1265.5 430.5L1266.1 427.6L1266.7 424.6L1267.3 421.7L1267.9 418.8L1268.5 415.8L1269.1 412.9L1269.7 410.0L1270.3 407.0L1270.8 404.1L1271.4 401.1L1272.0 398.2L1272.6 395.3L1273.1 392.3L1273.7 389.4L1274.3 386.5L1274.8 383.5L1275.4 380.6L1275.9 377.6L1276.5 374.7L1277.0 371.7L1277.6 368.8L1278.1 365.8L1278.7 362.9L1279.2 359.9L1279.8 357.0L1280.3 354.0L1280.8 351.1L1281.4 348.1L1281.9 345.2L1282.4 342.2L1282.9 339.3L1283.4 336.3L1283.9 333.3L1284.4 330.4L1284.9 327.4L1285.4 324.5L1285.9 321.5L1286.3 318.5L1286.8 315.6L1287.2 312.6L1287.7 309.6L1288.1 306.7L1288.5 303.7L1288.9 300.7L1289.3 297.8L1289.7 294.8L1290.1 291.8L1290.5 288.8L1290.8 285.9L1291.2 282.9L1291.5 279.9L1291.9 276.9L1292.2 274.0L1292.5 271.0L1292.8 268.0L1292.9 266.0" stroke="#ff00ff" stroke-width="4.9"/>
</g>
<g font-size="42.4px" stroke="#000" stroke-width="0.15">
<text x="180" y="792.3" text-anchor="end">0.00</text>
<text x="180" y="640.2" text-anchor="end">0.01</text>
<text x="180" y="487.0" text-anchor="end">0.02</text>
<text x="180" y="333.5" text-anchor="end">0.03</text>
<text x="180" y="181.3" text-anchor="end">0.04</text>
<text x="180" y="28.8" text-anchor="end">0.05</text>
<text x="327.0" y="838" text-anchor="middle">2</text>
<text x="570.0" y="838" text-anchor="middle">3</text>
<text x="810.4" y="838" text-anchor="middle">4</text>
<text x="1052.0" y="838" text-anchor="middle">5</text>
<text x="1293.0" y="838" text-anchor="middle">6</text>
</g>
<g stroke="#000" stroke-width="0.15">
<g font-size="45px" style="font-kerning:none">
<text x="508.2" y="925" textLength="164.8" lengthAdjust="spacingAndGlyphs">Potential</text>
<text x="686.6" y="925" textLength="60.5" lengthAdjust="spacingAndGlyphs">(V,</text>
<text x="761.0" y="925" textLength="50.9" lengthAdjust="spacingAndGlyphs">vs.</text>
<text x="824.3" y="925" textLength="95.6" lengthAdjust="spacingAndGlyphs">Li/Li</text>
<text x="921.3" y="898.5" font-size="28px">+</text>
<text x="938.7" y="925">)</text>
</g>
<text transform="translate(49.4,649) rotate(-90)" font-size="49.5px" textLength="501" lengthAdjust="spacingAndGlyphs">Current density (mA/cm<tspan font-size="28px" dy="-29">2</tspan><tspan dy="29">)</tspan></text>
</g>
<rect x="259.9" y="57.4" width="173.6" height="407.4" fill="#ffffff" stroke="#000" stroke-width="2.8"/>
<g fill="none">
<line x1="263.3" y1="78.8" x2="349.5" y2="78.8" stroke="#000000" stroke-width="4.3" stroke-dasharray="4 16.45"/>
<line x1="263.0" y1="123.5" x2="349.5" y2="123.5" stroke="#ff0000" stroke-width="4.3" stroke-dasharray="16.5 17.5"/>
<line x1="263.7" y1="169.5" x2="342.0" y2="169.5" stroke="#0000ff" stroke-width="4.3" stroke-dasharray="20 9 3.2 10.3"/>
<line x1="263.7" y1="215.0" x2="345.0" y2="215.0" stroke="#006b5e" stroke-width="4.3" stroke-dasharray="15 10.5 3 9 3 9.5"/>
<line x1="264" y1="306.5" x2="349" y2="306.5" stroke="#000000" stroke-width="4.5"/>
<line x1="264" y1="351.5" x2="349" y2="351.5" stroke="#ff0000" stroke-width="4.5"/>
<line x1="264" y1="396.8" x2="349" y2="396.8" stroke="#0000ff" stroke-width="4.5"/>
<line x1="264" y1="442.2" x2="349" y2="442.2" stroke="#ff00ff" stroke-width="4.5"/>
</g>
<g font-size="36px" stroke="#000" stroke-width="0.3">
<text x="355.5" y="90.5">SS-1</text>
<text x="355.5" y="135.2">SS-2</text>
<text x="355.5" y="181.2">SS-3</text>
<text x="355.5" y="226.7">SS-4</text>
<text x="354.5" y="318.2">BS-1</text>
<text x="354.5" y="363.2">BS-2</text>
<text x="354.5" y="408.5">BS-3</text>
<text x="354.5" y="453.9">BS-4</text>
</g>
</svg>
</body>
</html>
